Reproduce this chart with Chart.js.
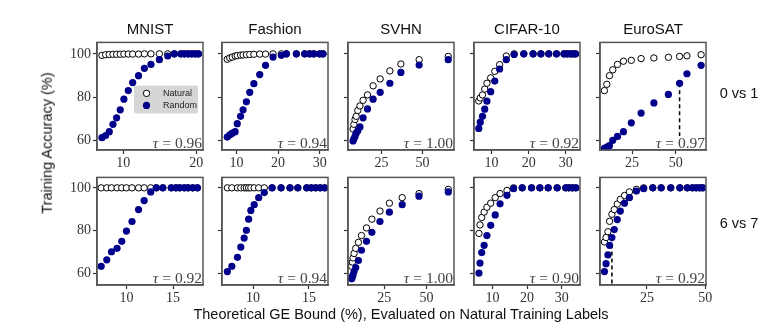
<!DOCTYPE html>
<html>
<head>
<meta charset="utf-8">
<script src="https://cdn.jsdelivr.net/npm/chart.js@4.4.1/dist/chart.umd.min.js"></script>
<style>
  body { margin: 0; background: #fff; }
  #fig { position: relative; width: 783px; height: 326px; overflow: hidden; font-family: 'Liberation Sans', sans-serif; color: #111; }
  #fig canvas { position: absolute; }
  .lbl { position: absolute; white-space: nowrap; transform: translate(-50%, -50%); line-height: 1; }
</style>
</head>
<body>
<div id="fig"></div>
<script>
// dataset names and row labels
var datasetNames = ['MNIST', 'Fashion', 'SVHN', 'CIFAR-10', 'EuroSAT'];
var rowLabels = ['0 vs 1', '6 vs 7'];
var yTicks = [60, 80, 100];

// tick labels along x, per panel
var xTicks01 = [[10, 20], [10, 20, 30], [25, 50], [10, 20, 30], [25, 50]];
var xTicks67 = [[10, 15], [10, 15], [25, 50], [10, 20, 30], [25, 50]];

// kendall tau shown in each panel
var tau01 = ['0.96', '0.94', '1.00', '0.92', '0.97'];
var tau67 = ['0.92', '0.94', '1.00', '0.90', '0.92'];

// ---- 0 vs 1 ----
var mnist01_x   = [7.1, 7.6, 8.1, 8.6, 9.1, 9.6, 10.1, 10.7, 11.3, 12.1, 12.9, 13.8, 14.95, 16.1, 17.0, 17.9, 18.4, 18.9, 19.4, 19.9, 20.3];
var mnist01_nat = [99.3, 99.6, 99.7, 99.8, 99.8, 99.8, 99.9, 99.9, 99.9, 99.9, 100, 100, 100, 100, 100, 100, 100, 100, 100, 100, 100];
var mnist01_rnd = [61.2, 62.2, 64.0, 67.4, 70.4, 74.1, 79.0, 83.0, 86.7, 89.9, 93.3, 95.1, 97.3, 99.0, 100, 100, 100, 100, 100, 100, 100];

var fashion01_x   = [7.8, 8.4, 9.0, 9.7, 10.2, 11.0, 11.6, 12.4, 13.2, 14.2, 15.6, 17.0, 18.8, 20.8, 22.0, 24.4, 26.4, 27.6, 28.6, 30.0, 30.8];
var fashion01_nat = [97.5, 98.1, 98.5, 99.0, 99.2, 99.4, 99.5, 99.6, 99.7, 99.8, 99.9, 99.9, 100, 100, 100, 100, 100, 100, 100, 100, 100];
var fashion01_rnd = [61.5, 62.5, 63.3, 64.0, 67.7, 71.1, 74.1, 77.8, 82.2, 86.2, 90.4, 94.7, 98.5, 99.3, 100, 100, 100, 100, 100, 100, 100];

var svhn01_x   = [7.7, 8.2, 8.9, 9.6, 10.6, 11.9, 13.8, 16.5, 19.9, 24.2, 30.1, 36.8, 47.9, 65.6];
var svhn01_nat = [65.2, 67.4, 69.6, 71.1, 73.8, 75.9, 78.5, 81.0, 85.2, 88.4, 92.1, 95.3, 97.3, 98.8];
var svhn01_rnd = [59.7, 60.7, 61.8, 63.3, 64.4, 66.2, 70.4, 74.5, 79.0, 82.2, 86.4, 91.4, 94.8, 97.3];

var cifar01_x   = [6.6, 7.0, 7.6, 8.2, 8.8, 9.8, 10.9, 12.2, 14.0, 16.1, 18.7, 21.2, 23.3, 25.4, 27.5, 29.5, 30.3, 31.2, 31.9, 32.6];
var cifar01_nat = [78.2, 79.6, 81.0, 83.7, 86.4, 88.9, 91.9, 95.0, 99.0, 100, 100, 100, 100, 100, 100, 100, 100, 100, 100, 100];
var cifar01_rnd = [65.5, 68.4, 71.1, 74.4, 78.1, 82.5, 87.4, 93.0, 97.3, 99.7, 100, 100, 100, 100, 100, 100, 100, 100, 100, 100];

var euro01_x   = [9.2, 10.6, 12.1, 14.0, 16.7, 20.1, 24.6, 30.2, 37.5, 45.8, 52.2, 56.4, 64.5];
var euro01_nat = [83.0, 85.9, 89.9, 92.6, 95.1, 96.6, 97.0, 97.8, 98.1, 98.4, 98.8, 99.1, 99.6];
var euro01_rnd = [56.3, 56.8, 57.5, 60.0, 61.8, 64.0, 68.1, 72.6, 77.3, 81.2, 86.4, 90.8, 94.7];

// ---- 6 vs 7 ----
var mnist67_x   = [7.3, 7.9, 8.4, 9.0, 9.5, 10.0, 10.6, 11.3, 11.9, 12.6, 13.2, 13.9, 14.8, 15.3, 15.7, 16.2, 16.6, 17.1, 17.6];
var mnist67_nat = [100, 100, 100, 100, 100, 100, 100, 100, 100, 100, 100, 100, 100, 100, 100, 100, 100, 100, 100];
var mnist67_rnd = [63.2, 66.2, 70.0, 71.6, 74.9, 79.7, 84.2, 89.8, 94.0, 98.1, 100, 100, 100, 100, 100, 100, 100, 100, 100];

var fashion67_x   = [7.7, 8.1, 8.6, 8.9, 9.2, 9.4, 9.6, 9.8, 10.1, 10.5, 11.0, 11.7, 12.5, 13.3, 14.0, 14.8, 15.2, 15.6, 16.0, 16.4];
var fashion67_nat = [100, 100, 100, 100, 100, 100, 100, 100, 100, 100, 100, 100, 100, 100, 100, 100, 100, 100, 100, 100];
var fashion67_rnd = [60.7, 63.2, 67.4, 72.2, 76.4, 80.1, 85.3, 89.4, 92.1, 95.4, 97.8, 100, 100, 100, 100, 100, 100, 100, 100, 100];

var svhn67_x   = [5.6, 6.0, 6.4, 7.0, 8.0, 9.6, 11.4, 14.4, 17.6, 22.4, 28.0, 35.6, 45.6, 63.0];
var svhn67_nat = [63.2, 65.2, 67.1, 69.2, 71.6, 74.4, 77.6, 81.2, 85.3, 89.1, 92.8, 95.4, 97.3, 99.3];
var svhn67_rnd = [57.3, 58.2, 59.2, 60.7, 62.6, 65.9, 70.7, 74.9, 79.1, 84.2, 88.6, 92.1, 96.1, 98.1];

var cifar67_x   = [6.1, 6.4, 6.9, 7.6, 8.4, 9.5, 10.8, 12.2, 14.2, 16.1, 18.6, 21.3, 23.7, 26.1, 28.7, 31.2, 32.1, 33.1, 34.1];
var cifar67_nat = [78.6, 82.6, 86.1, 88.6, 90.9, 92.8, 95.4, 97.3, 98.8, 100, 100, 100, 100, 100, 100, 100, 100, 100, 100];
var cifar67_rnd = [60.0, 64.7, 69.6, 73.0, 77.6, 82.4, 87.3, 92.5, 96.5, 99.6, 100, 100, 100, 100, 100, 100, 100, 100, 100];

var euro67_x   = [6.8, 7.5, 8.3, 9.0, 10.0, 11.0, 12.3, 13.6, 15.4, 17.5, 20.5, 23.6, 27.5, 31.1, 35.2, 39.1, 42.3, 44.5, 46.1, 47.6, 48.9];
var euro67_nat = [74.6, 76.7, 79.4, 84.3, 87.6, 89.8, 92.4, 94.6, 96.4, 98.1, 99.3, 100, 100, 100, 100, 100, 100, 100, 100, 100, 100];
var euro67_rnd = [60.7, 64.4, 68.5, 73.0, 76.7, 80.4, 85.1, 89.1, 92.8, 95.4, 98.5, 99.6, 100, 100, 100, 100, 100, 100, 100, 100, 100];

// index of the point marked by the dashed drop line (EuroSAT only)
var euro01_cut = 10;
var euro67_cut = 4;

// axis limits
var xRange01 = [[6.42, 20.92], [6.54, 32.0], [4.63, 69.1], [5.32, 33.8], [6.7, 67.3]];
var xRange67 = [[6.85, 18.2], [7.22, 16.7], [3.4, 66.4], [4.67, 35.3], [4.9, 50.3]];
var yRange = [[55.5, 105.3], [54.4, 104.9]];

var panels = [
  [[mnist01_x, mnist01_nat, mnist01_rnd], [fashion01_x, fashion01_nat, fashion01_rnd], [svhn01_x, svhn01_nat, svhn01_rnd], [cifar01_x, cifar01_nat, cifar01_rnd], [euro01_x, euro01_nat, euro01_rnd]],
  [[mnist67_x, mnist67_nat, mnist67_rnd], [fashion67_x, fashion67_nat, fashion67_rnd], [svhn67_x, svhn67_nat, svhn67_rnd], [cifar67_x, cifar67_nat, cifar67_rnd], [euro67_x, euro67_nat, euro67_rnd]]
];

var colLeft = [97, 222, 348, 474, 600];
var rowTop = [38, 173];
var frameW = 106, frameH = 112;
var padL = 45, padT = 6, padR = 10, padB = 24;
var navy = '#00008b';

var fig = document.getElementById('fig');

function addLabel(text, x, y, size, rotate) {
  var d = document.createElement('div');
  d.className = 'lbl';
  d.textContent = text;
  d.style.left = x + 'px';
  d.style.top = y + 'px';
  d.style.fontSize = size + 'px';
  if (rotate) d.style.transform = 'translate(-50%, -50%) rotate(-90deg)';
  fig.appendChild(d);
}

// frame, tau box and legend
var decor = {
  id: 'decor',
  afterDatasetsDraw: function(chart, args, opts) {
    var ctx = chart.ctx, a = chart.chartArea;
    ctx.save();
    var serif = "'Liberation Serif', serif";
    ctx.font = 'italic 15.5px ' + serif;
    var wTau = ctx.measureText('\u03c4').width;
    ctx.font = '15.5px ' + serif;
    var rest = ' = ' + opts.tau;
    var wRest = ctx.measureText(rest).width;
    var right = a.right - 1, base = a.bottom - 2;
    ctx.fillStyle = '#fff';
    ctx.fillRect(right - wTau - wRest - 1, base - 12, wTau + wRest + 1, a.bottom - base + 11);
    ctx.fillStyle = '#444';
    ctx.textBaseline = 'alphabetic';
    ctx.textAlign = 'left';
    ctx.font = 'italic 15.5px ' + serif;
    ctx.fillText('\u03c4', right - wTau - wRest, base);
    ctx.font = '15.5px ' + serif;
    ctx.fillText(rest, right - wRest, base);

    if (opts.legend) {
      var lx = a.left + 37, ly = a.top + 43, lw = 64, lh = 28;
      ctx.fillStyle = 'rgba(210,210,210,0.9)';
      ctx.beginPath();
      ctx.roundRect(lx, ly, lw, lh, 2);
      ctx.fill();
      var ds = chart.data.datasets;
      var rows = [[ds[1], 'Natural', ly + 8], [ds[0], 'Random', ly + 20]];
      rows.forEach(function(r) {
        ctx.beginPath();
        ctx.arc(lx + 12.5, r[2], r[0].pointRadius, 0, Math.PI * 2);
        ctx.fillStyle = r[0].backgroundColor;
        ctx.fill();
        if (r[0].borderWidth) {
          ctx.lineWidth = r[0].borderWidth;
          ctx.strokeStyle = r[0].borderColor;
          ctx.stroke();
        }
        ctx.fillStyle = '#222';
        ctx.font = "9px 'Liberation Sans', sans-serif";
        ctx.textBaseline = 'middle';
        ctx.fillText(r[1], lx + 29, r[2]);
      });
    }
    ctx.restore();
  },
  afterDraw: function(chart) {
    var ctx = chart.ctx, a = chart.chartArea;
    ctx.save();
    ctx.strokeStyle = '#555';
    ctx.lineWidth = 1.5;
    ctx.strokeRect(a.left, a.top, a.right - a.left, a.bottom - a.top);
    ctx.restore();
  }
};

function makePanel(row, col) {
  var p = panels[row][col];
  var xs = p[0], nat = p[1], rnd = p[2];
  var ticksX = row === 0 ? xTicks01[col] : xTicks67[col];
  var range = row === 0 ? xRange01[col] : xRange67[col];
  var tau = row === 0 ? tau01[col] : tau67[col];

  var cv = document.createElement('canvas');
  var W = padL + frameW + padR, H = padT + frameH + padB;
  cv.width = W; cv.height = H;
  cv.style.width = W + 'px'; cv.style.height = H + 'px';
  cv.style.left = (colLeft[col] - padL) + 'px';
  cv.style.top = (rowTop[row] - padT) + 'px';
  fig.appendChild(cv);

  var datasets = [
    {
      label: 'Random',
      data: xs.map(function(x, i) { return {x: x, y: rnd[i]}; }),
      backgroundColor: navy, borderColor: navy, borderWidth: 0,
      pointRadius: 3.6, order: 0
    },
    {
      label: 'Natural',
      data: xs.map(function(x, i) { return {x: x, y: nat[i]}; }),
      backgroundColor: '#fff', borderColor: '#000', borderWidth: 1,
      pointRadius: 3.2, order: 1
    }
  ];

  var cut = null;
  if (col === 4) cut = row === 0 ? euro01_cut : euro67_cut;
  if (cut !== null) {
    datasets.push({
      type: 'line', label: 'cut',
      data: [{x: xs[cut], y: rnd[cut]}, {x: xs[cut], y: yRange[row][0]}],
      borderColor: '#000', borderWidth: 1.5, borderDash: [4, 3],
      pointRadius: 0, fill: false, order: 2
    });
  }

  var gridOpts = {display: true, drawOnChartArea: false, drawTicks: true, tickLength: 4, tickWidth: 1.2, tickColor: '#333'};
  var tickFont = {family: "'Liberation Serif', serif", size: 14};

  new Chart(cv.getContext('2d'), {
    type: 'scatter',
    data: {datasets: datasets},
    options: {
      responsive: false, animation: false, devicePixelRatio: 1,
      layout: {padding: {left: 0, top: padT, right: padR, bottom: 0}},
      plugins: {
        legend: {display: false}, tooltip: {enabled: false},
        decor: {tau: tau, legend: row === 0 && col === 0}
      },
      scales: {
        x: {
          type: 'linear', min: range[0], max: range[1],
          afterBuildTicks: function(s) { s.ticks = ticksX.map(function(v) { return {value: v}; }); },
          afterFit: function(s) { s.height = padB; },
          grid: gridOpts,
          border: {display: true, color: '#555', width: 1.5},
          ticks: {font: tickFont, color: '#333', padding: 1, maxRotation: 0}
        },
        y: {
          type: 'linear', min: yRange[row][0], max: yRange[row][1],
          afterBuildTicks: function(s) { s.ticks = yTicks.map(function(v) { return {value: v}; }); },
          afterFit: function(s) { s.width = padL; },
          grid: gridOpts,
          border: {display: true, color: '#555', width: 1.5},
          ticks: {
            font: tickFont, color: '#333', padding: 2,
            callback: function(v) { return col === 0 ? String(v) : ''; }
          }
        }
      }
    },
    plugins: [decor]
  });
}

for (var r = 0; r < 2; r++) {
  for (var c = 0; c < 5; c++) makePanel(r, c);
}

for (var c = 0; c < 5; c++) addLabel(datasetNames[c], colLeft[c] + frameW / 2, 28, 15);
addLabel(rowLabels[0], 739, 93, 14.5);
addLabel(rowLabels[1], 739, 223, 14.5);
addLabel('Training Accuracy (%)', 47, 143, 14.5, true);
addLabel('Theoretical GE Bound (%), Evaluated on Natural Training Labels', 401, 314, 14.5);
</script>
</body>
</html>
